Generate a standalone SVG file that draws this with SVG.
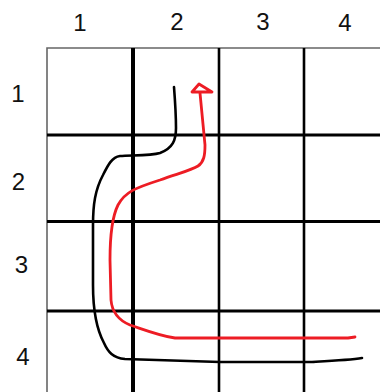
<svg xmlns="http://www.w3.org/2000/svg" width="380" height="392" viewBox="0 0 380 392">
<style>
.lbl{font-family:"Liberation Sans",Arial,sans-serif;font-size:24px;fill:#111;text-anchor:middle}
.g{stroke:#000;fill:none}
.blk{stroke:#000;stroke-width:2.6;fill:none;stroke-linecap:round;stroke-linejoin:round}
.red{stroke:#ED1C24;stroke-width:2.8;fill:none;stroke-linecap:round;stroke-linejoin:round}
</style>
<rect width="380" height="392" fill="#fff"/>
<g id="grid">
<path d="M47,392 V48 H380" stroke="#666" stroke-width="1.6" fill="none"/>
<line class="g" x1="133" y1="48" x2="133" y2="392" stroke-width="4"/>
<line class="g" x1="219" y1="48" x2="219" y2="392" stroke-width="2.6"/>
<line class="g" x1="304" y1="48" x2="304" y2="392" stroke-width="2.6"/>
<line class="g" x1="47" y1="135" x2="380" y2="135" stroke-width="3.2"/>
<line class="g" x1="47" y1="221.5" x2="380" y2="221.5" stroke-width="3.2"/>
<line class="g" x1="47" y1="311" x2="380" y2="311" stroke-width="3.2"/>
</g>
<g id="col-labels">
<text class="lbl" x="80" y="31">1</text>
<text class="lbl" x="177" y="30">2</text>
<text class="lbl" x="263" y="30">3</text>
<text class="lbl" x="345" y="31">4</text>
</g>
<g id="row-labels">
<text class="lbl" x="18" y="102">1</text>
<text class="lbl" x="18.5" y="190">2</text>
<text class="lbl" x="21.5" y="273">3</text>
<text class="lbl" x="23" y="365">4</text>
</g>
<g id="connectors">
<path id="black-path" class="blk" d="M174,87 C175,100 176,115 176,128 C176,140 173,148 160,153 C150,156 130,155 120,156 C112,157 108,165 103,175 C95,190 93,205 93,225 L93,285 C93,310 97,330 104,343 C108,352 113,358 125,359 L220,362 L312,362 C330,361 350,360 362,358"/>
<path id="red-path" class="red" d="M355,337 L348,338 L175,338 C160,336 145,330 130,325 C118,320 112,312 111,300 L110,260 C110,235 113,215 118,205 C125,192 135,188 160,180 C180,173 192,170 198,166 C204,162 205,155 205,145 L200,93"/>
<polygon id="red-arrowhead" class="red" points="199,84 212,92 192,92" fill="#fff"/>
</g>
</svg>
